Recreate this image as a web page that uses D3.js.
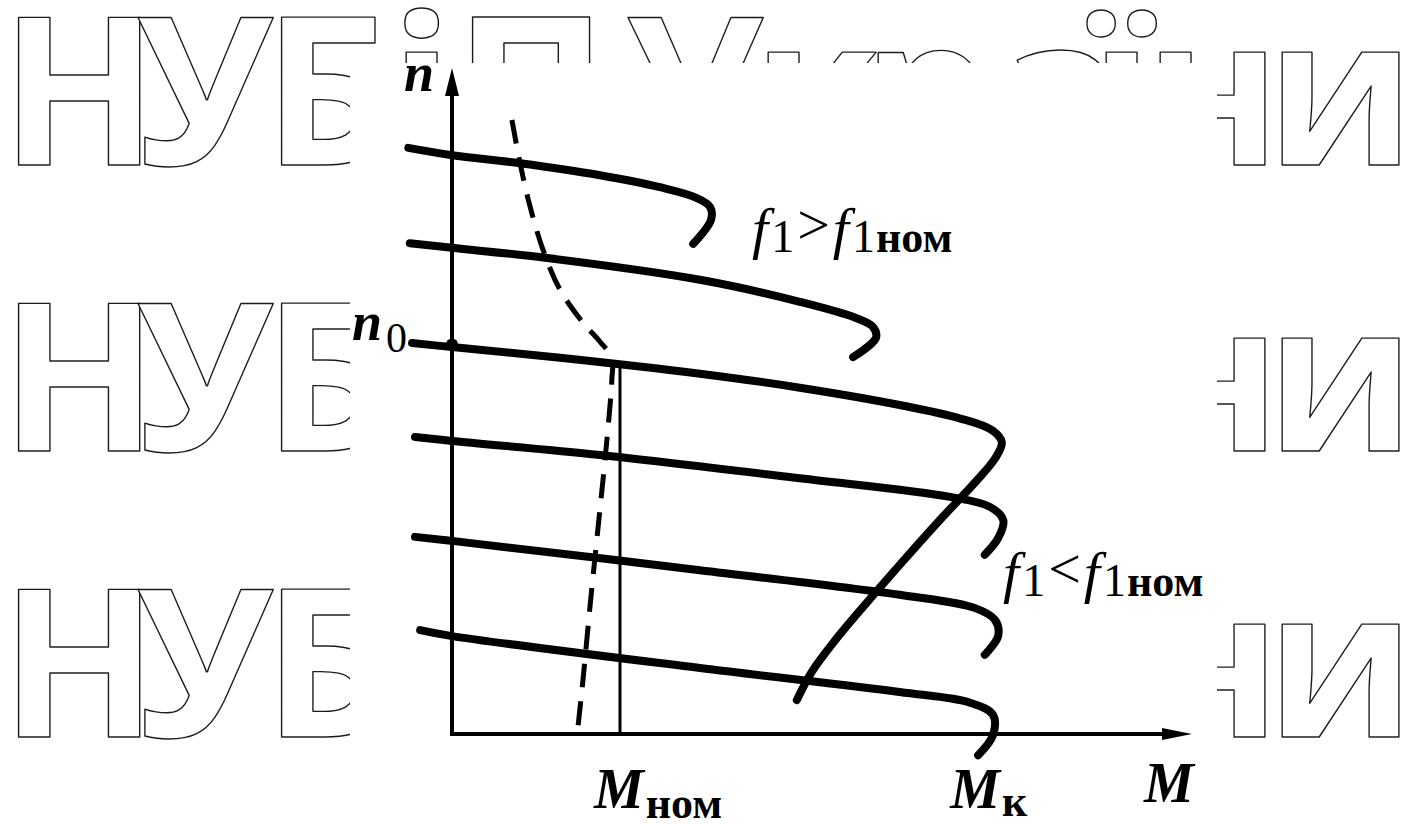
<!DOCTYPE html>
<html>
<head>
<meta charset="utf-8">
<script src="https://cdn.jsdelivr.net/npm/d3@7"></script>
<style>
  html, body { margin: 0; padding: 0; background: #fff; }
  svg { display: block; }
</style>
</head>
<body>
<svg id="chart" width="1411" height="825"></svg>
<script>
// Mechanical characteristics n(M) of an induction motor under frequency control.
// Points are [M, n] in relative units.

const charHigh2 = [[-0.59, 8.80], [0, 8.69], [0.92, 8.57], [2.00, 8.39], [2.81, 8.21],
  [3.28, 8.06], [3.49, 7.91], [3.50, 7.72], [3.26, 7.36]];
const charHigh1 = [[-0.57, 7.37], [0, 7.30], [1.26, 7.15], [3.35, 6.82], [4.70, 6.49],
  [5.45, 6.25], [5.69, 6.11], [5.73, 5.95], [5.42, 5.66]];
const charNominal = [[-0.54, 5.87], [0, 5.81], [1.46, 5.65], [3.35, 5.41], [4.70, 5.20],
  [6.05, 4.94], [6.86, 4.74], [7.30, 4.56], [7.43, 4.38], [7.34, 4.14], [7.07, 3.78],
  [6.59, 3.21], [6.05, 2.54], [5.58, 1.94], [5.18, 1.41], [4.86, 0.93], [4.66, 0.51]];
const charLow1 = [[-0.50, 4.46], [0, 4.40], [2.00, 4.19], [4.70, 3.84], [6.73, 3.56],
  [7.27, 3.41], [7.45, 3.21], [7.38, 2.94], [7.20, 2.69]];
const charLow2 = [[-0.50, 2.96], [0, 2.90], [3.35, 2.46], [6.05, 2.09], [7.07, 1.89],
  [7.34, 1.71], [7.38, 1.47], [7.20, 1.19]];
const charLow3 = [[-0.43, 1.56], [0, 1.47], [3.35, 0.99], [6.05, 0.63], [7.00, 0.47],
  [7.31, 0.29], [7.31, -0.02], [7.11, -0.32]];
const solidCharacteristics = [charHigh2, charHigh1, charNominal, charLow1, charLow2, charLow3];

// locus of operating points at nominal load torque
const loadLocus = [[0.81, 9.22], [0.92, 8.57], [1.05, 7.94], [1.23, 7.27], [1.46, 6.67],
  [1.76, 6.19], [2.00, 5.89], [2.16, 5.65], [2.16, 5.32], [2.08, 4.26], [1.97, 3.06],
  [1.86, 1.86], [1.77, 0.81], [1.69, -0.02]];

const n0 = 5.85;      // synchronous speed at nominal frequency
const Mnom = 2.27;    // nominal torque
const Mk = 7.3;       // critical torque
const Mmax = 10, nMax = 10;

// background watermark
const watermarkText = "НУБіП України";
const watermarkBaselines = [165, 451, 737];
const watermarkGlyphX = [0, 136, 263, 390, 454, 580, 626, 752, 862, 998, 1090, 1144, 1266];

const svg = d3.select("#chart");

const x = d3.scaleLinear().domain([0, Mmax]).range([452, 1192]);
const y = d3.scaleLinear().domain([0, nMax]).range([734, 68]);

// watermark rows
const wm = svg.append("g").attr("class", "watermark");
watermarkBaselines.forEach(b => {
  wm.append("text")
    .attr("x", watermarkGlyphX.join(" "))
    .attr("y", b)
    .attr("font-family", "Open Sans")
    .attr("font-weight", 700)
    .attr("font-size", 207)
    .attr("fill", "#fff")
    .attr("stroke", "#1a1a1a")
    .attr("stroke-width", 1.4)
    .attr("stroke-linejoin", "round")
    .text(watermarkText);
});

// plate behind the diagram
svg.append("rect")
  .attr("x", 350).attr("y", 63)
  .attr("width", 867).attr("height", 762)
  .attr("fill", "#fff");

const plot = svg.append("g");

// axes
plot.append("line")
  .attr("x1", x(0)).attr("y1", y(0))
  .attr("x2", x(0)).attr("y2", y(nMax) + 20)
  .attr("stroke", "#000").attr("stroke-width", 4);
plot.append("line")
  .attr("x1", x(0) - 2).attr("y1", y(0))
  .attr("x2", x(Mmax) - 20).attr("y2", y(0))
  .attr("stroke", "#000").attr("stroke-width", 4);
plot.append("path")
  .attr("d", `M${x(0)},${y(nMax)} L${x(0) - 7},${y(nMax) + 28} L${x(0) + 7},${y(nMax) + 28} Z`)
  .attr("fill", "#000");
plot.append("path")
  .attr("d", `M${x(Mmax)},${y(0)} L${x(Mmax) - 30},${y(0) - 6} L${x(Mmax) - 30},${y(0) + 6} Z`)
  .attr("fill", "#000");

const line = d3.line()
  .x(d => x(d[0]))
  .y(d => y(d[1]))
  .curve(d3.curveCatmullRom.alpha(0.5));

// nominal torque ordinate
plot.append("line")
  .attr("x1", x(Mnom)).attr("y1", y(5.6))
  .attr("x2", x(Mnom)).attr("y2", y(0))
  .attr("stroke", "#000").attr("stroke-width", 3);

// dashed load locus
plot.append("path")
  .attr("d", line(loadLocus))
  .attr("fill", "none")
  .attr("stroke", "#000")
  .attr("stroke-width", 5)
  .attr("stroke-dasharray", "24 14");

// characteristics
plot.selectAll("path.char")
  .data(solidCharacteristics)
  .join("path")
  .attr("class", "char")
  .attr("d", d => line(d))
  .attr("fill", "none")
  .attr("stroke", "#000")
  .attr("stroke-width", 8)
  .attr("stroke-linecap", "round")
  .attr("stroke-linejoin", "round");

// n0 marker dot
plot.append("circle")
  .attr("cx", x(0)).attr("cy", y(n0))
  .attr("r", 6).attr("fill", "#000");

// labels
const serif = "Liberation Serif";
function label(px, py, parts) {
  const t = plot.append("text").attr("x", px).attr("y", py)
    .attr("font-family", serif).attr("fill", "#000");
  parts.forEach(p => {
    const s = t.append("tspan").text(p.t)
      .attr("font-size", p.size)
      .attr("font-style", p.italic ? "italic" : "normal")
      .attr("font-weight", p.bold ? 700 : 400);
    if (p.dy) s.attr("dy", p.dy);
    if (p.dx) s.attr("dx", p.dx);
  });
  return t;
}

label(x(0) - 48, y(nMax) + 23, [{ t: "n", size: 54, italic: true, bold: true }]);
label(x(0) - 100, y(n0) - 4, [
  { t: "n", size: 54, italic: true, bold: true },
  { t: "0", size: 42, dy: 12, dx: 4 }
]);
label(x(Mnom) - 26, 808, [
  { t: "M", size: 56, italic: true, bold: true },
  { t: "ном", size: 44, bold: true, dy: 10, dx: 2 }
]);
label(x(Mk) - 42, 808, [
  { t: "M", size: 56, italic: true, bold: true },
  { t: "к", size: 44, bold: true, dy: 8, dx: 2 }
]);
label(x(Mmax) - 48, 802, [{ t: "M", size: 56, italic: true, bold: true }]);

function freqLabel(px, py, sign) {
  return label(px, py, [
    { t: "f", size: 58, italic: true },
    { t: "1", size: 46, dx: 3, dy: 4 },
    { t: sign, size: 58, dx: 3, dy: -8 },
    { t: "f", size: 58, italic: true, dx: 3, dy: 4 },
    { t: "1", size: 46, dx: 3, dy: 4 },
    { t: "ном", size: 44, bold: true, dx: 1 }
  ]);
}
freqLabel(752, 248, ">");
freqLabel(1003, 592, "<");
</script>
</body>
</html>
